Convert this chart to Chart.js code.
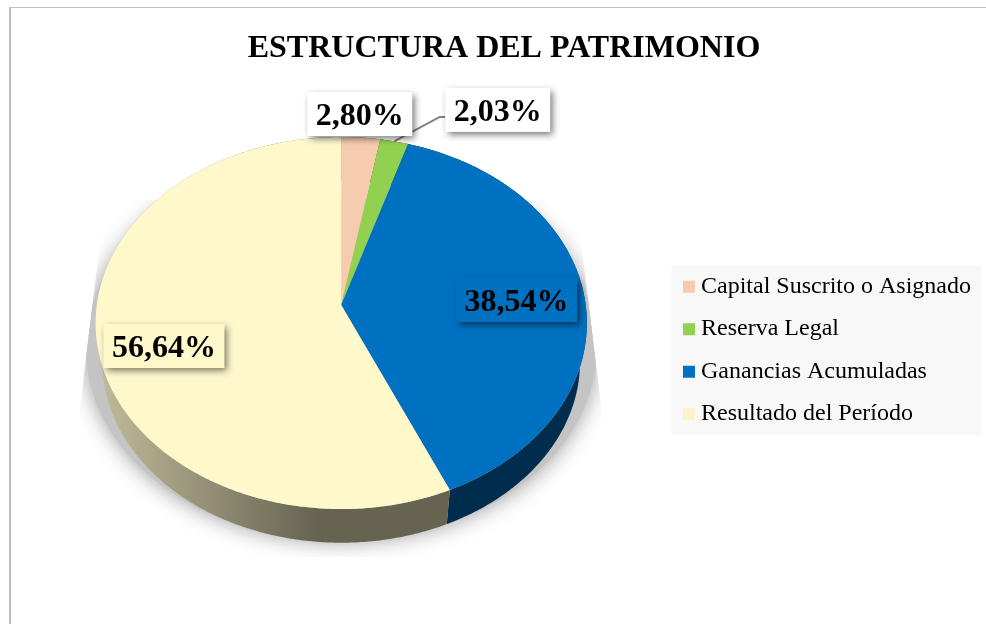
<!DOCTYPE html>
<html>
<head>
<meta charset="utf-8">
<style>
html,body{margin:0;padding:0;background:#fff;overflow:hidden;width:986px;height:624px}
#frame{position:absolute;left:9px;top:7px;width:1000px;height:640px;border-left:2px solid #bfbfbf;border-top:1px solid #bfbfbf}
canvas{display:block}
</style>
<script src="https://cdn.jsdelivr.net/npm/chart.js@4/dist/chart.umd.min.js"></script>
</head>
<body>
<div id="frame"><canvas id="c" width="990" height="640" style="width:990px;height:640px"></canvas></div>
<script>
const categories = ['Capital Suscrito o Asignado', 'Reserva Legal', 'Ganancias Acumuladas', 'Resultado del Período'];
const shares = [2.80, 2.03, 38.54, 56.64];
const sliceColors = ['#F7CBAE', '#92D050', '#0070C0', '#FEF8CB'];
const legendColors = ['#F8CBAD', '#92D050', '#0070C0', '#FAF4C8'];
const chartTitle = 'ESTRUCTURA DEL PATRIMONIO';

const SERIF = '"Liberation Serif", "Times New Roman", serif';
const TILT = 0.0968, SQUASH = 0.7538, WALL_SCALE = 0.972, WALL_DROP = 39.4;

function project(arc, angle, scale, drop) {
  const u = Math.cos(angle), v = Math.sin(angle), w = 1 - TILT * v, r = arc.outerRadius * scale;
  return [arc.x + r * u / w, arc.y + drop + r * SQUASH * v / w];
}
function rim(ctx, arc, from, to, scale, drop) {
  const n = Math.max(2, Math.ceil(Math.abs(to - from) / 0.01));
  for (let i = 0; i <= n; i++) {
    const p = project(arc, from + (to - from) * i / n, scale, drop);
    ctx.lineTo(p[0], p[1]);
  }
}
Chart.ArcElement.prototype.draw = function (ctx) {
  ctx.save();
  ctx.beginPath();
  ctx.moveTo(this.x, this.y);
  rim(ctx, this, this.startAngle, this.endAngle, 1, 0);
  ctx.closePath();
  ctx.fillStyle = this.options.backgroundColor;
  ctx.fill();
  ctx.restore();
};
function shade(hex, f) {
  const n = parseInt(hex.slice(1), 16);
  return 'rgb(' + [(n >> 16) & 255, (n >> 8) & 255, n & 255].map(c => Math.round(c * f)).join(',') + ')';
}

const pieBody = {
  id: 'pieBody',
  beforeDatasetsDraw(chart) {
    const ctx = chart.ctx, arcs = chart.getDatasetMeta(0).data, a = arcs[0];
    const R = a.outerRadius;
    // soft cast shadow, cut off by a trapezoid
    ctx.save();
    ctx.beginPath();
    ctx.moveTo(a.x - R * 0.965, a.y - R * 0.43);
    ctx.lineTo(a.x - R * 1.07, a.y + R * 0.43);
    ctx.lineTo(a.x - R * 1.07, a.y + R * 1.03);
    ctx.lineTo(a.x + R * 1.065, a.y + R * 1.03);
    ctx.lineTo(a.x + R * 1.065, a.y + R * 0.43);
    ctx.lineTo(a.x + R * 0.96, a.y - R * 0.43);
    ctx.closePath();
    ctx.clip();
    ctx.shadowColor = 'rgba(0,0,0,0.4)';
    ctx.shadowBlur = 22;
    ctx.fillStyle = '#c4c4c4';
    ctx.beginPath();
    rim(ctx, a, 0, Math.PI * 2, 1.04, 24);
    ctx.closePath();
    ctx.fill();
    ctx.restore();
    // side walls
    arcs.forEach((arc, i) => {
      const base = sliceColors[i];
      const g = ctx.createLinearGradient(a.x - R, 0, a.x + R, 0);
      g.addColorStop(0, shade(base, 0.76));
      g.addColorStop(0.2, shade(base, 0.6));
      g.addColorStop(0.45, shade(base, 0.4));
      g.addColorStop(1, shade(base, 0.4));
      ctx.fillStyle = g;
      ctx.beginPath();
      rim(ctx, arc, arc.startAngle, arc.endAngle, 1, 0);
      rim(ctx, arc, arc.endAngle, arc.startAngle, WALL_SCALE, WALL_DROP);
      ctx.closePath();
      ctx.fill();
    });
  }
};

// offset of each label box centre from the pie apex, in radii
const labelAnchors = [[0.076, -0.781], [0.64, -0.798], [0.717, -0.0204], [-0.725, 0.1677]];
const labelFills = ['#ffffff', '#ffffff', '#0070C0', '#FEF8CB'];
const pieLabels = {
  id: 'pieLabels',
  afterDatasetsDraw(chart) {
    const meta = chart.getDatasetMeta(0), ctx = chart.ctx, a = meta.data[0], R = a.outerRadius;
    ctx.save();
    // leader line of the second label
    const second = meta.data[1];
    const start = project(a, (second.startAngle + second.endAngle) / 2, 1, 0);
    ctx.strokeStyle = '#7f7f7f';
    ctx.lineWidth = 2;
    ctx.beginPath();
    ctx.moveTo(start[0], start[1]);
    ctx.lineTo(a.x + R * 0.403, a.y - R * 0.769);
    ctx.lineTo(a.x + R * 0.455, a.y - R * 0.769);
    ctx.stroke();
    ctx.font = 'bold 32px ' + SERIF;
    ctx.textAlign = 'center';
    ctx.textBaseline = 'middle';
    shares.forEach((v, i) => {
      const text = v.toFixed(2).replace('.', ',') + '%';
      const cx = a.x + labelAnchors[i][0] * R, cy = a.y + labelAnchors[i][1] * R;
      const w = ctx.measureText(text).width + 17, h = 44;
      ctx.save();
      ctx.shadowColor = 'rgba(0,0,0,0.55)';
      ctx.shadowBlur = 7;
      ctx.shadowOffsetX = 3;
      ctx.shadowOffsetY = 3;
      ctx.fillStyle = labelFills[i];
      ctx.fillRect(cx - w / 2, cy - h / 2, w, h);
      ctx.restore();
      ctx.fillStyle = '#000';
      ctx.fillText(text, cx, cy + 2.7);
    });
    ctx.restore();
  }
};
const legendPlacer = {
  id: 'legendPlacer',
  afterLayout(chart) {
    const l = chart.legend, t = chart.titleBlock;
    const bandLeft = l.left;
    l.top += 75.5; l.bottom += 75.5;
    l.left -= 1; l.right -= 1;
    t.left += 7.5; t.right += 7.5;
    chart.$legendBandLeft = bandLeft;
  },
  beforeDraw(chart) {
    const l = chart.legend, hb = l.legendHitBoxes;
    const ctx = chart.ctx;
    ctx.save();
    ctx.fillStyle = '#f8f8f8';
    const pitch = hb[1].top - hb[0].top;
    // band spans the four legend rows, measured from the legend's own box
    const rowsTop = (l.top + l.bottom) / 2 - pitch * 2;
    ctx.fillRect(chart.$legendBandLeft, rowsTop, 310, pitch * 4);
    ctx.restore();
  }
};

new Chart(document.getElementById('c'), {
  type: 'pie',
  plugins: [pieBody, pieLabels, legendPlacer],
  data: {
    labels: categories,
    datasets: [{ data: shares, backgroundColor: sliceColors, borderWidth: 0, radius: 244.5 }]
  },
  options: {
    responsive: false,
    animation: false,
    layout: { padding: { top: 0, bottom: 106.2, left: 0, right: 19 } },
    plugins: {
      tooltip: { enabled: false },
      title: {
        display: true, text: chartTitle, color: '#000',
        font: { family: SERIF, size: 32, weight: 'bold', lineHeight: 1.2 },
        padding: { top: 21.8, bottom: 0 }
      },
      legend: {
        position: 'right',
        labels: {
          color: '#000',
          font: { family: SERIF, size: 24 },
          boxWidth: 0.1, boxHeight: 0.1, padding: 18.5,
          generateLabels(chart) {
            return categories.map((t, i) => ({
              text: t, index: i, fillStyle: legendColors[i], strokeStyle: legendColors[i],
              lineWidth: 11.9, lineJoin: 'miter', fontColor: '#000', hidden: false
            }));
          }
        }
      }
    }
  }
});
</script>
</body>
</html>
